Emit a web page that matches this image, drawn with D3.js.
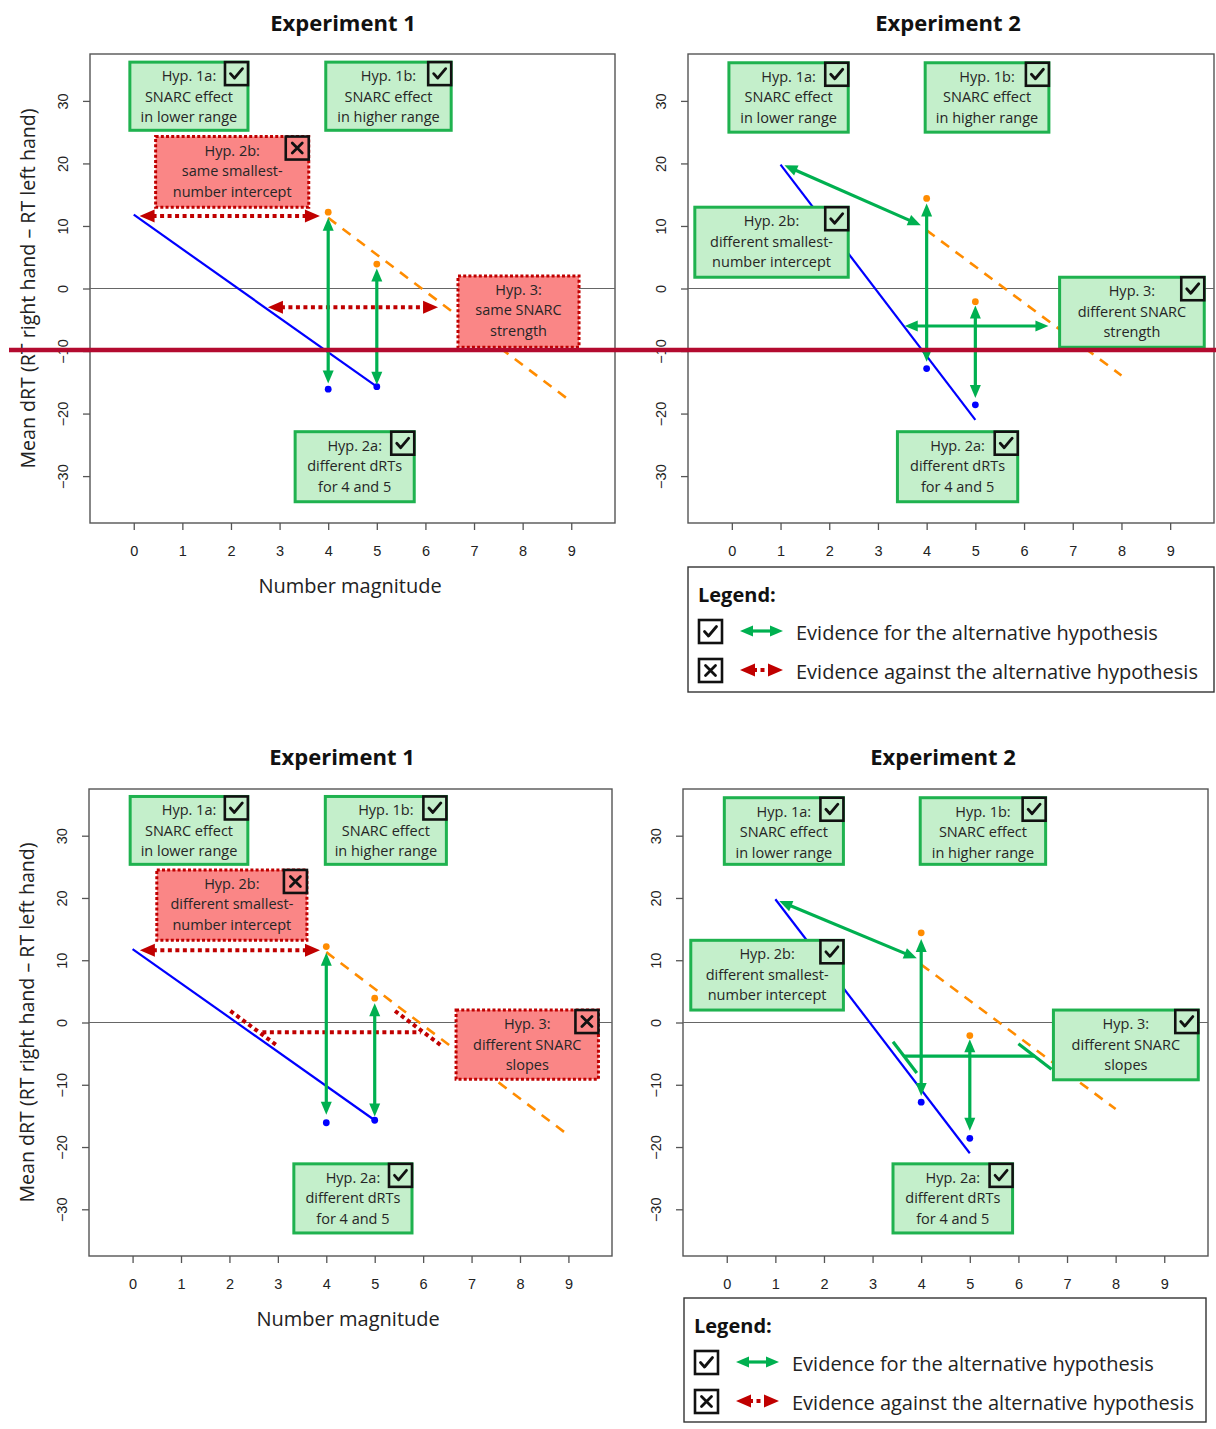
<!DOCTYPE html>
<html><head><meta charset="utf-8">
<script src="https://cdn.jsdelivr.net/npm/d3@7"></script>
<style>body{margin:0;background:#fff}svg{display:block}</style>
</head><body>
<svg id="c" width="1216" height="1429"></svg>
<script>
// ---------- data ----------
const xTicks = [0,1,2,3,4,5,6,7,8,9];
const yTicks = [-30,-20,-10,0,10,20,30];
const pointX = [4,5];
// Experiment 1
const exp1LowerFitX = [0,5];
const exp1LowerFitY = [11.8,-15.7];
const exp1UpperFitX = [4,9];
const exp1UpperFitY = [11.3,-18.1];
const exp1LowerPointY = [-16.1,-15.7];
const exp1UpperPointY = [12.2,3.9];
// Experiment 2
const exp2LowerFitX = [1,5];
const exp2LowerFitY = [19.8,-21.0];
const exp2UpperFitX = [4,8];
const exp2UpperFitY = [9.3,-13.9];
const exp2LowerPointY = [-12.8,-18.6];
const exp2UpperPointY = [14.4,-2.1];
// hypothesis texts
const hyp1a = ["Hyp. 1a:","SNARC effect","in lower range"];
const hyp1b = ["Hyp. 1b:","SNARC effect","in higher range"];
const hyp2a = ["Hyp. 2a:","different dRTs","for 4 and 5"];
const hyp2bSame = ["Hyp. 2b:","same smallest-","number intercept"];
const hyp2bDiff = ["Hyp. 2b:","different smallest-","number intercept"];
const hyp3Same = ["Hyp. 3:","same SNARC","strength"];
const hyp3Diff = ["Hyp. 3:","different SNARC","strength"];
const hyp3Slopes = ["Hyp. 3:","different SNARC","slopes"];
const titles = ["Experiment 1","Experiment 2"];
const xLabel = "Number magnitude";
const yLabel = "Mean dRT (RT right hand \u2013 RT left hand)";
const legendTitle = "Legend:";
const legendItems = ["Evidence for the alternative hypothesis","Evidence against the alternative hypothesis"];

// ---------- styles ----------
const C = {
  blue:"#0000ff", orange:"#ff8c00", green:"#00b050", red:"#c00000",
  gFill:"#c4efcb", gStroke:"#1fb24f", rFill:"#fa8686", axis:"#555"
};
const FONT = "'Open Sans', 'Noto Sans', sans-serif";
const AXFONT = "'Liberation Sans', Arial, sans-serif";

const svg = d3.select("#c");

const exp1 = {lfx:exp1LowerFitX,lfy:exp1LowerFitY,ufx:exp1UpperFitX,ufy:exp1UpperFitY,lpy:exp1LowerPointY,upy:exp1UpperPointY};
const exp2 = {lfx:exp2LowerFitX,lfy:exp2LowerFitY,ufx:exp2UpperFitX,ufy:exp2UpperFitY,lpy:exp2LowerPointY,upy:exp2UpperPointY};

// annotation layout (data units)
const panels = [
  { left:90, top:54, w:525, h:469, exp:exp1, title:titles[0], titleX:343, titleY:22, yLab:true, xLab:true,
    boxes:[
      {t:hyp1a, x:[-0.08,2.35], y:[36.2,25.3], kind:"g", icon:"check"},
      {t:hyp1b, x:[3.95,6.53], y:[36.2,25.3], kind:"g", icon:"check"},
      {t:hyp2bSame, x:[0.45,3.6], y:[24.3,13.0], kind:"r", icon:"x"},
      {t:hyp3Same, x:[6.67,9.16], y:[2.0,-9.4], kind:"r", icon:null},
      {t:hyp2a, x:[3.32,5.77], y:[-22.9,-34.1], kind:"g", icon:"check"}],
    arrows:[
      {k:"r", a:[0.12,11.6], b:[3.83,11.6]},
      {k:"r", a:[2.76,-3.0], b:[6.26,-3.0]},
      {k:"g", a:[4,11.3], b:[4,-15.2]},
      {k:"g", a:[5,3.2], b:[5,-15.4]}],
    segs:[] },
  { left:688, top:54, w:526, h:469, exp:exp2, title:titles[1], titleX:948, titleY:22, yLab:false, xLab:false,
    boxes:[
      {t:hyp1a, x:[-0.06,2.39], y:[36.1,25.0], kind:"g", icon:"check"},
      {t:hyp1b, x:[3.97,6.51], y:[36.1,25.0], kind:"g", icon:"check"},
      {t:hyp2bDiff, x:[-0.76,2.39], y:[13.0,1.8], kind:"g", icon:"check"},
      {t:hyp3Diff, x:[6.73,9.7], y:[1.8,-9.4], kind:"g", icon:"check"},
      {t:hyp2a, x:[3.4,5.87], y:[-22.9,-34.1], kind:"g", icon:"check"}],
    arrows:[
      {k:"g", a:[1.08,19.7], b:[3.88,10.1]},
      {k:"g", a:[4,13.6], b:[4,-11.7]},
      {k:"g", a:[5,-2.7], b:[5,-17.5]},
      {k:"g", a:[3.55,-6.0], b:[6.5,-6.0]}],
    segs:[] },
  { left:89, top:789, w:523, h:467, exp:exp1, title:titles[0], titleX:342, titleY:756, yLab:true, xLab:true,
    boxes:[
      {t:hyp1a, x:[-0.05,2.38], y:[36.3,25.4], kind:"g", icon:"check"},
      {t:hyp1b, x:[3.98,6.48], y:[36.3,25.4], kind:"g", icon:"check"},
      {t:hyp2bDiff, x:[0.5,3.6], y:[24.5,13.2], kind:"r", icon:"x"},
      {t:hyp3Slopes, x:[6.68,9.62], y:[2.0,-9.1], kind:"r", icon:"x"},
      {t:hyp2a, x:[3.33,5.77], y:[-22.7,-33.8], kind:"g", icon:"check"}],
    arrows:[
      {k:"r", a:[0.15,11.6], b:[3.87,11.6]},
      {k:"g", a:[4,11.2], b:[4,-14.8]},
      {k:"g", a:[5,3.1], b:[5,-15.1]}],
    segs:[
      {k:"r", a:[2.02,1.85], b:[3.0,-3.8]},
      {k:"r", a:[2.68,-1.55], b:[5.95,-1.55]},
      {k:"r", a:[5.42,1.85], b:[6.41,-3.9]}] },
  { left:683, top:789, w:525, h:467, exp:exp2, title:titles[1], titleX:943, titleY:756, yLab:false, xLab:false,
    boxes:[
      {t:hyp1a, x:[-0.05,2.4], y:[36.1,25.4], kind:"g", icon:"check"},
      {t:hyp1b, x:[3.98,6.56], y:[36.1,25.4], kind:"g", icon:"check"},
      {t:hyp2bDiff, x:[-0.74,2.4], y:[13.2,2.0], kind:"g", icon:"check"},
      {t:hyp3Slopes, x:[6.72,9.7], y:[2.0,-9.2], kind:"g", icon:"check"},
      {t:hyp2a, x:[3.42,5.88], y:[-22.7,-33.8], kind:"g", icon:"check"}],
    arrows:[
      {k:"g", a:[1.08,19.5], b:[3.91,10.3]},
      {k:"g", a:[4,13.4], b:[4,-11.8]},
      {k:"g", a:[5,-2.7], b:[5,-17.4]}],
    segs:[
      {k:"g", a:[3.42,-3.1], b:[3.91,-8.1]},
      {k:"g", a:[3.65,-5.4], b:[6.33,-5.4]},
      {k:"g", a:[6.0,-3.4], b:[6.68,-7.5]}] }
];

function head(g, tip, ang, col, L, W){
  const c = Math.cos(ang), s = Math.sin(ang);
  const bx = tip[0]-c*L, by = tip[1]-s*L;
  g.append("path")
    .attr("d", `M${tip[0]},${tip[1]}L${bx - s*W/2},${by + c*W/2}L${bx + s*W/2},${by - c*W/2}Z`)
    .attr("fill", col);
}

function doubleArrow(g, p, q, kind){
  const col = kind==="g" ? C.green : C.red;
  const L = kind==="g" ? 13 : 15, W = kind==="g" ? 11 : 13;
  const dx = q[0]-p[0], dy = q[1]-p[1], len = Math.hypot(dx,dy);
  const ux = dx/len, uy = dy/len;
  g.append("line")
    .attr("x1", p[0]+ux*(L-2)).attr("y1", p[1]+uy*(L-2))
    .attr("x2", q[0]-ux*(L-2)).attr("y2", q[1]-uy*(L-2))
    .attr("stroke", col).attr("stroke-width", kind==="g"?3.2:4)
    .attr("stroke-dasharray", kind==="g"?null:"4,3.5");
  const ang = Math.atan2(dy,dx);
  head(g, q, ang, col, L, W);
  head(g, p, ang+Math.PI, col, L, W);
}

function icon(g, x, y, type, fill){
  const s = 23;
  g.append("rect").attr("x",x).attr("y",y).attr("width",s).attr("height",s)
    .attr("fill",fill).attr("stroke","#111").attr("stroke-width",2.6);
  if(type==="check"){
    g.append("path").attr("d",`M${x+5.5},${y+11.5}L${x+9.5},${y+16}L${x+17.5},${y+6.5}`)
      .attr("fill","none").attr("stroke","#111").attr("stroke-width",2.8)
      .attr("stroke-linecap","round").attr("stroke-linejoin","round");
  } else {
    g.append("path").attr("d",`M${x+6.5},${y+6.5}L${x+16.5},${y+16.5}M${x+16.5},${y+6.5}L${x+6.5},${y+16.5}`)
      .attr("fill","none").attr("stroke","#111").attr("stroke-width",2.8).attr("stroke-linecap","round");
  }
}

function drawPanel(P){
  const g = svg.append("g").attr("transform",`translate(${P.left},${P.top})`);
  const x = d3.scaleLinear().domain([-0.9,9.9]).range([0,P.w]);
  const y = d3.scaleLinear().domain([-37.5,37.5]).range([P.h,0]);

  // axes
  const ax = g.append("g").attr("transform",`translate(0,${P.h})`)
    .call(d3.axisBottom(x).tickValues(xTicks).tickSize(7).tickPadding(16).tickFormat(d3.format("d")));
  ax.select(".domain").remove();
  ax.selectAll("line").attr("stroke",C.axis).attr("stroke-width",1.3);
  ax.selectAll("text").attr("font-family",AXFONT).attr("font-size",14.5).attr("fill","#222");

  const ay = g.append("g")
    .call(d3.axisLeft(y).tickValues(yTicks).tickSize(7).tickFormat(d=> d<0 ? "\u2212"+Math.abs(d) : d));
  ay.select(".domain").remove();
  ay.selectAll("line").attr("stroke",C.axis).attr("stroke-width",1.3);
  ay.selectAll("text").attr("font-family",AXFONT).attr("font-size",14.5).attr("fill","#222")
    .attr("text-anchor","middle").attr("dy",null).attr("x",null)
    .attr("transform","translate(-27,0) rotate(-90)").attr("dominant-baseline","central");

  // frame + zero line
  g.append("rect").attr("width",P.w).attr("height",P.h).attr("fill","none")
    .attr("stroke",C.axis).attr("stroke-width",1.4);
  g.append("line").attr("x1",0).attr("x2",P.w).attr("y1",y(0)).attr("y2",y(0))
    .attr("stroke","#666").attr("stroke-width",1.2);

  // fitted lines
  const E = P.exp;
  const line = d3.line().x(d=>x(d[0])).y(d=>y(d[1]));
  g.append("path").attr("d", line(d3.zip(E.lfx,E.lfy))).attr("stroke",C.blue).attr("stroke-width",2.2).attr("fill","none");
  g.append("path").attr("d", line(d3.zip(E.ufx,E.ufy))).attr("stroke",C.orange).attr("stroke-width",2.6)
    .attr("stroke-dasharray","10,8").attr("fill","none");
  g.selectAll(".lp").data(d3.zip(pointX,E.lpy)).join("circle").attr("cx",d=>x(d[0])).attr("cy",d=>y(d[1])).attr("r",3.4).attr("fill",C.blue);
  g.selectAll(".up").data(d3.zip(pointX,E.upy)).join("circle").attr("cx",d=>x(d[0])).attr("cy",d=>y(d[1])).attr("r",3.4).attr("fill",C.orange);

  // slope segments
  P.segs.forEach(s=>{
    g.append("line").attr("x1",x(s.a[0])).attr("y1",y(s.a[1])).attr("x2",x(s.b[0])).attr("y2",y(s.b[1]))
      .attr("stroke", s.k==="g"?C.green:C.red).attr("stroke-width", s.k==="g"?3.2:4)
      .attr("stroke-dasharray", s.k==="g"?null:"4,3.5");
  });
  // arrows
  P.arrows.forEach(a=> doubleArrow(g,[x(a.a[0]),y(a.a[1])],[x(a.b[0]),y(a.b[1])],a.k));

  // boxes
  P.boxes.forEach(b=>{
    const x0=x(b.x[0]), x1=x(b.x[1]), y0=y(b.y[0]), y1=y(b.y[1]);
    const fill = b.kind==="g"?C.gFill:C.rFill;
    g.append("rect").attr("x",x0).attr("y",y0).attr("width",x1-x0).attr("height",y1-y0)
      .attr("fill",fill)
      .attr("stroke", b.kind==="g"?C.gStroke:C.red)
      .attr("stroke-width", 3)
      .attr("stroke-dasharray", b.kind==="g"?null:"3,2.2");
    const cx=(x0+x1)/2;
    b.t.forEach((s,i)=>{
      g.append("text").attr("x",cx).attr("y",y0+13.5+i*20.5).attr("text-anchor","middle")
        .attr("dominant-baseline","central").attr("font-family",FONT).attr("font-size",14.5)
        .attr("fill","#262626").text(s);
    });
    if(b.icon) icon(g, x1-23, y0, b.icon, fill);
  });

  // titles & labels
  svg.append("text").attr("x",P.titleX).attr("y",P.titleY).attr("text-anchor","middle")
    .attr("dominant-baseline","central").attr("font-family",FONT).attr("font-weight",700)
    .attr("font-size",22).attr("fill","#111").text(P.title);
  if(P.xLab){
    svg.append("text").attr("x",P.left+x(4.45)).attr("y",P.top+P.h+62).attr("text-anchor","middle")
      .attr("dominant-baseline","central").attr("font-family",FONT).attr("font-size",20)
      .attr("fill","#222").text(xLabel);
  }
  if(P.yLab){
    svg.append("text").attr("transform",`translate(${P.left-63},${P.top+y(0)}) rotate(-90)`)
      .attr("text-anchor","middle").attr("dominant-baseline","central")
      .attr("font-family",FONT).attr("font-size",19.6).attr("fill","#222").text(yLabel);
  }
}

panels.forEach(drawPanel);

// legends
function legend(L){
  const g = svg.append("g").attr("transform",`translate(${L.x},${L.y})`);
  g.append("rect").attr("width",L.w).attr("height",L.h).attr("fill","#fff").attr("stroke","#333").attr("stroke-width",1.4);
  g.append("text").attr("x",10).attr("y",27).attr("dominant-baseline","central")
    .attr("font-family",FONT).attr("font-weight",700).attr("font-size",20).attr("fill","#111").text(legendTitle);
  legendItems.forEach((t,i)=>{
    const cy = 64 + i*39;
    icon(g, 11, cy-11, i===0?"check":"x", "#fff");
    doubleArrow(g,[52,cy],[95,cy], i===0?"g":"r");
    g.append("text").attr("x",108).attr("y",cy+1).attr("dominant-baseline","central")
      .attr("font-family",FONT).attr("font-size",20).attr("fill","#222").text(t);
  });
}
legend({x:688,y:567,w:526,h:125});
legend({x:684,y:1298,w:522,h:124});

// overlay rule
svg.append("line").attr("x1",9).attr("x2",1216).attr("y1",350).attr("y2",350)
  .attr("stroke","#b30a2f").attr("stroke-width",4.5);
</script>
</body></html>
